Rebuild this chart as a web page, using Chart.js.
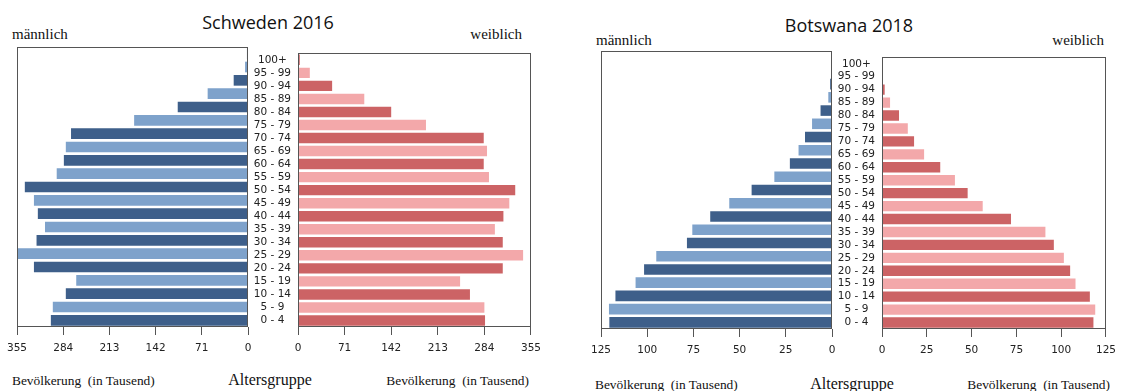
<!DOCTYPE html>
<html><head><meta charset="utf-8">
<script src="https://cdn.jsdelivr.net/npm/chart.js@4.4.0/dist/chart.umd.min.js"></script>
<style>
html,body{margin:0;padding:0;background:#fff;}
#wrap{position:relative;width:1123px;height:391px;overflow:hidden;background:#fff;}
canvas{position:absolute;}
.t{position:absolute;white-space:pre;line-height:1;color:#111;}
.serif{font-family:"Liberation Serif","Times New Roman",serif;}
.title{font-family:"Open Sans",sans-serif;font-size:18px;}
.lbl{font-size:15px;}
.bev{font-size:13.4px;}
.alt{font-size:16px;}
</style></head><body>
<div id="wrap">
  <div class="t title" style="left:268px;top:22px;transform:translate(-50%,-50%)">Schweden 2016</div>
  <div class="t serif lbl" style="left:12px;top:34px;transform:translateY(-50%)">männlich</div>
  <div class="t serif lbl" style="right:601px;top:34px;transform:translateY(-50%)">weiblich</div>
  <div class="t serif bev" style="left:12px;top:381px;transform:translateY(-50%)">Bevölkerung  (in Tausend)</div>
  <div class="t serif alt" style="left:270px;top:380px;transform:translate(-50%,-50%)">Altersgruppe</div>
  <div class="t serif bev" style="right:594px;top:381px;transform:translateY(-50%)">Bevölkerung  (in Tausend)</div>

  <div class="t title" style="left:849px;top:25px;transform:translate(-50%,-50%)">Botswana 2018</div>
  <div class="t serif lbl" style="left:596px;top:40px;transform:translateY(-50%)">männlich</div>
  <div class="t serif lbl" style="right:19px;top:40px;transform:translateY(-50%)">weiblich</div>
  <div class="t serif bev" style="left:595px;top:385px;transform:translateY(-50%)">Bevölkerung  (in Tausend)</div>
  <div class="t serif alt" style="left:852px;top:384px;transform:translate(-50%,-50%)">Altersgruppe</div>
  <div class="t serif bev" style="right:13px;top:385px;transform:translateY(-50%)">Bevölkerung  (in Tausend)</div>

  <canvas id="sm" width="262" height="330" style="left:0px;top:40px"></canvas>
  <canvas id="sf" width="308" height="330" style="left:240px;top:40px"></canvas>
  <canvas id="bm" width="262" height="328" style="left:584px;top:44px"></canvas>
  <canvas id="bf" width="299" height="328" style="left:824px;top:44px"></canvas>
</div>
<script>
const ageGroups = ['0 - 4','5 - 9','10 - 14','15 - 19','20 - 24','25 - 29','30 - 34','35 - 39','40 - 44','45 - 49','50 - 54','55 - 59','60 - 64','65 - 69','70 - 74','75 - 79','80 - 84','85 - 89','90 - 94','95 - 99','100+'];

const swedenMale   = [303, 300, 280, 264, 329, 357, 325, 312, 323, 329, 343, 294, 283, 280, 272, 175, 108, 62, 22, 4.5, 1.6];
const swedenFemale = [285, 284, 262, 247, 312, 343, 312, 300, 313, 322, 331, 291, 283, 288, 283, 195, 142, 101, 52, 18, 2.7];

const botswanaMale   = [120.5, 120.7, 117.2, 106.3, 101.7, 95.1, 78.5, 75.6, 65.9, 55.6, 43.5, 31.2, 22.8, 18.1, 14.6, 10.8, 6.2, 2, 1, 0.3, 0.4];
const botswanaFemale = [118, 119, 116, 108, 105, 101.5, 95.9, 91.2, 72, 56.2, 47.8, 40.7, 32.5, 23.5, 17.9, 14.4, 9.5, 4.5, 1.5, 0.3, 0.3];

const swedenTicks   = [0, 71, 142, 213, 284, 355];
const botswanaTicks = [0, 25, 50, 75, 100, 125];

const maleColors   = ['#3e5f8a', '#7ea2cb'];
const femaleColors = ['#cc6365', '#f3a8aa'];

const framePlugin = {
  id: 'frame',
  afterDraw(chart) {
    const {ctx, chartArea} = chart;
    const L = Math.round(chartArea.left) + 0.5, R = Math.round(chartArea.right) - 0.5;
    const T = Math.round(chartArea.top) + 0.5, B = Math.round(chartArea.bottom) - 0.5;
    ctx.save();
    ctx.strokeStyle = '#555';
    ctx.lineWidth = 1;
    ctx.strokeRect(L, T, R - L, B - T);
    ctx.restore();
  }
};

function makePanel(id, values, colors, ticks, isLeft, pad) {
  const maxV = ticks[ticks.length - 1];
  const step = ticks[1] - ticks[0];
  const yScale = {
    type: 'category',
    reverse: true,
    display: !isLeft,
    grid: { display: false, drawTicks: false },
    border: { display: false },
    ticks: {
      autoSkip: false, crossAlign: 'center', padding: 7,
      color: '#222', font: { family: 'DejaVu Sans', size: 10.5 }
    }
  };
  if (!isLeft) yScale.afterFit = s => { s.width = 50; };
  return new Chart(document.getElementById(id), {
    type: 'bar',
    data: {
      labels: ageGroups,
      datasets: [{
        data: values,
        backgroundColor: ctx => colors[ctx.dataIndex % 2],
        borderWidth: 0,
        barPercentage: 0.8,
        categoryPercentage: 1.0
      }]
    },
    options: {
      indexAxis: 'y',
      responsive: false,
      animation: false,
      devicePixelRatio: 1,
      layout: { padding: pad },
      plugins: { legend: { display: false }, tooltip: { enabled: false } },
      scales: {
        x: {
          type: 'linear',
          min: 0, max: maxV,
          reverse: isLeft,
          afterFit: s => { s.height = 43; },
          grid: { display: true, drawOnChartArea: false, drawTicks: true, tickLength: 8, color: '#555' },
          border: { display: false },
          ticks: {
            stepSize: step, autoSkip: false, maxRotation: 0, padding: 7,
            color: '#222', font: { family: 'DejaVu Sans', size: 10.5 }
          }
        },
        y: yScale
      }
    },
    plugins: [framePlugin]
  });
}

makePanel('sm', swedenMale, maleColors, swedenTicks, true, {left: 12, right: 14, top: 7, bottom: 0});
makePanel('sf', swedenFemale, femaleColors, swedenTicks, false, {left: 8, right: 14, top: 7, bottom: 0});
makePanel('bm', botswanaMale, maleColors, botswanaTicks, true, {left: 12, right: 14, top: 7, bottom: 0});
makePanel('bf', botswanaFemale, femaleColors, botswanaTicks, false, {left: 8, right: 7, top: 7, bottom: 0});
</script>
</body></html>
